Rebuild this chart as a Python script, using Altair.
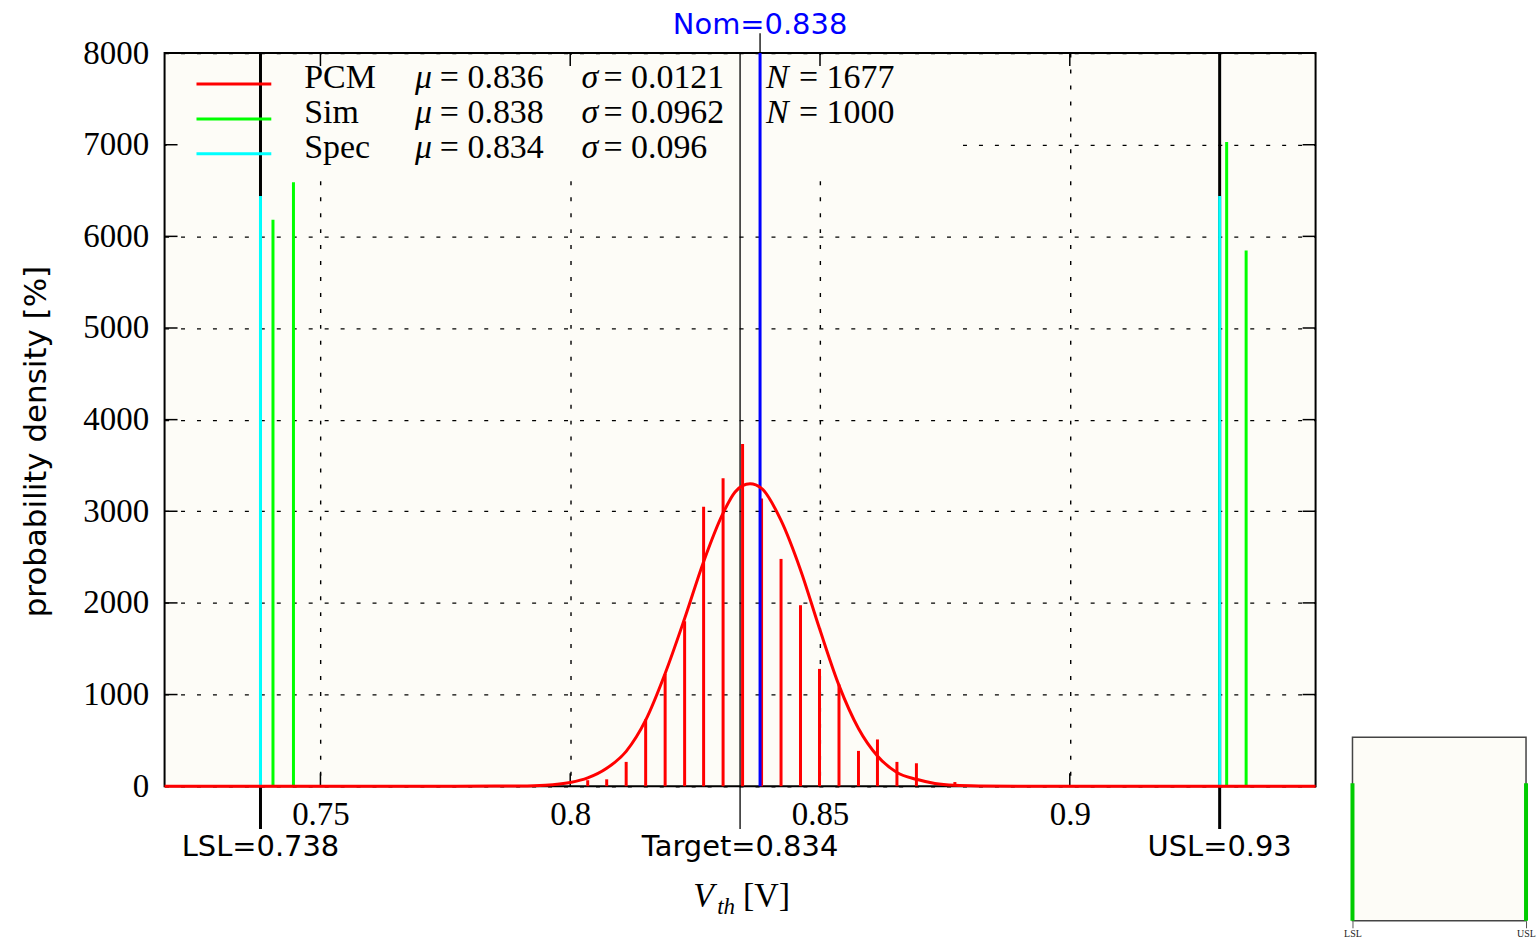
import altair as alt
import pandas as pd

# ---------------- data ----------------
LSL = 0.738
USL = 0.93
TARGET = 0.834
NOMINAL = 0.838

pcm_bin_centers = [0.8035, 0.8073, 0.8112, 0.8151, 0.8190, 0.8229, 0.8267, 0.8306, 0.8345, 0.8383,
                   0.8422, 0.8461, 0.8499, 0.8538, 0.8577, 0.8615, 0.8654, 0.8693, 0.8770]
pcm_density = [65, 75, 265, 730, 1225, 1800, 3050, 3360, 3735, 3140,
               2480, 1975, 1280, 1110, 385, 510, 265, 250, 45]

sim_bin_centers = [0.7405, 0.7446, 0.9314, 0.9353]
sim_density = [6180, 6590, 7030, 5845]

spec_positions = [0.738, 0.93]
spec_density = [6440, 6440]

fit_x = [0.7188, 0.770, 0.785, 0.790, 0.795, 0.800, 0.8035, 0.8073, 0.8112, 0.8151, 0.8190,
         0.8229, 0.8267, 0.8306, 0.8330, 0.8345, 0.8360, 0.8383, 0.8422, 0.8461, 0.8499,
         0.8538, 0.8577, 0.8615, 0.8654, 0.8693, 0.8730, 0.8770, 0.8820, 0.8900, 0.9492]
fit_density = [0, 0, 1, 2, 10, 40, 90, 195, 380, 720, 1230,
               1830, 2450, 2980, 3210, 3280, 3300, 3250, 2900, 2360, 1720,
               1100, 630, 330, 150, 75, 30, 10, 3, 0, 0]

x_tick_values = [0.75, 0.8, 0.85, 0.9]
y_tick_values = [0, 1000, 2000, 3000, 4000, 5000, 6000, 7000, 8000]
X_DOMAIN = [0.7188, 0.9492]
Y_DOMAIN = [0, 8000]

legend_names = ["PCM", "Sim", "Spec"]
legend_mu = ["0.836", "0.838", "0.834"]
legend_sigma = ["0.0121", "0.0962", "0.096"]
legend_n = ["1677", "1000", ""]
legend_colors = ["#ff0000", "#00ff00", "#00ffff"]

limit_positions = [LSL, USL]
limit_labels = ["LSL=0.738", "USL=0.93"]

inset_positions = [LSL, USL]
inset_heights = [0.75, 0.75]

# ---------------- styling ----------------
BG = "#fdfcf7"
SERIF = "Liberation Serif"
SANS = "DejaVu Sans"
W, H = 1154, 735

xscale = alt.Scale(domain=X_DOMAIN, nice=False, zero=False)
yscale = alt.Scale(domain=Y_DOMAIN, nice=False, zero=False)

xaxis = alt.Axis(values=x_tick_values, format="~g", title=None, grid=True, gridColor="black",
                 gridDash=[4, 12], gridWidth=1.4, gridOpacity=1, ticks=False, tickSize=0,
                 domain=False, labelFont=SERIF, labelFontSize=33, labelColor="black",
                 labelPadding=12, labelFlush=False)
yaxis = alt.Axis(values=y_tick_values, format="d", title="probability density [%]",
                 titleFont=SANS, titleFontSize=31, titleFontWeight="normal", titleColor="black",
                 titleAngle=270, titleX=-128, titleY=389, titleAlign="center",
                 titleBaseline="middle", grid=True, gridColor="black", gridDash=[4, 12],
                 gridWidth=1.4, gridOpacity=1, ticks=False, tickSize=0, domain=False,
                 labelFont=SERIF, labelFontSize=33, labelColor="black", labelPadding=16,
                 labelFlush=False)


def X(field):
    return alt.X(field, type="quantitative", scale=xscale, axis=xaxis)


def Y(field):
    return alt.Y(field, type="quantitative", scale=yscale, axis=yaxis)


one = pd.DataFrame({"i": [0]})
pcm_df = pd.DataFrame({"x": pcm_bin_centers, "d": pcm_density})
sim_df = pd.DataFrame({"x": sim_bin_centers, "d": sim_density})
spec_df = pd.DataFrame({"x": spec_positions, "d": spec_density})
fit_df = pd.DataFrame({"x": fit_x, "d": fit_density})
xt_df = pd.DataFrame({"v": x_tick_values})
yt_df = pd.DataFrame({"v": y_tick_values})
lim_df = pd.DataFrame({"x": limit_positions, "label": limit_labels})
target_df = pd.DataFrame({"x": [TARGET], "label": ["Target=0.834"]})
nom_df = pd.DataFrame({"x": [NOMINAL], "label": ["Nom=0.838"], "top": [Y_DOMAIN[1]], "bot": [0]})

layers = []

# legend background (hides grid behind the legend)
layers.append(alt.Chart(one).mark_rect(fill=BG).encode(
    x=alt.value(2), x2=alt.value(792), y=alt.value(2), y2=alt.value(123)))

# inward ticks on all four sides
layers.append(alt.Chart(xt_df).mark_rule(color="black", strokeWidth=1.5).encode(
    x=X("v"), y=alt.value(H), y2=alt.value(H - 13)))
layers.append(alt.Chart(xt_df).mark_rule(color="black", strokeWidth=1.5).encode(
    x=X("v"), y=alt.value(0), y2=alt.value(13)))
layers.append(alt.Chart(yt_df).mark_rule(color="black", strokeWidth=1.5).encode(
    y=Y("v"), x=alt.value(0), x2=alt.value(13)))
layers.append(alt.Chart(yt_df).mark_rule(color="black", strokeWidth=1.5).encode(
    y=Y("v"), x=alt.value(W), x2=alt.value(W - 13)))

# PCM histogram
layers.append(alt.Chart(pcm_df).mark_rule(color="#ff0000", strokeWidth=3).encode(
    x=X("x"), y=Y("d"), y2=alt.datum(0)))

# spec limit lines (black, thick)
layers.append(alt.Chart(lim_df).mark_rule(color="black", strokeWidth=3).encode(
    x=X("x"), y=alt.value(0), y2=alt.value(H + 43)))
# Spec (cyan) and Sim (green)
layers.append(alt.Chart(spec_df).mark_rule(color="#00ffff", strokeWidth=3).encode(
    x=X("x"), y=Y("d"), y2=alt.datum(0)))
layers.append(alt.Chart(sim_df).mark_rule(color="#00ff00", strokeWidth=3).encode(
    x=X("x"), y=Y("d"), y2=alt.datum(0)))

# target line
layers.append(alt.Chart(target_df).mark_rule(color="black", strokeWidth=1.3).encode(
    x=X("x"), y=alt.value(0), y2=alt.value(H + 43)))
# nominal line
layers.append(alt.Chart(nom_df).mark_rule(color="#0000ff", strokeWidth=3).encode(
    x=X("x"), y=Y("top"), y2=alt.datum(0)))
layers.append(alt.Chart(nom_df).mark_rule(color="black", strokeWidth=1.3).encode(
    x=X("x"), y=alt.value(-20), y2=alt.value(0)))

# fitted density curve
layers.append(alt.Chart(fit_df).mark_line(color="#ff0000", strokeWidth=3,
                                          interpolate="monotone").encode(x=X("x"), y=Y("d")))

# legend
row_y = [31, 66, 101]
for i, name in enumerate(legend_names):
    ly = row_y[i]
    layers.append(alt.Chart(one).mark_rule(color=legend_colors[i], strokeWidth=3).encode(
        x=alt.value(32), x2=alt.value(107), y=alt.value(ly)))
    pieces = [(140, name, "normal"),
              (251, "\u03bc", "italic"), (276, "= " + legend_mu[i], "normal"),
              (418, "\u03c3", "italic"), (440, "= " + legend_sigma[i], "normal")]
    if legend_n[i]:
        pieces += [(603, "N", "italic"), (636, "= " + legend_n[i], "normal")]
    for px, txt, style in pieces:
        layers.append(alt.Chart(one).mark_text(
            font=SERIF, fontSize=34, fontStyle=style, align="left", baseline="alphabetic",
            color="black").encode(x=alt.value(px), y=alt.value(ly + 4), text=alt.value(txt)))

# annotations below the axis
layers.append(alt.Chart(lim_df).mark_text(font=SANS, fontSize=29, color="black",
                                          baseline="middle", align="center").encode(
    x=X("x"), y=alt.value(796), text="label:N"))
layers.append(alt.Chart(target_df).mark_text(font=SANS, fontSize=29, color="black",
                                             baseline="middle", align="center").encode(
    x=X("x"), y=alt.value(796), text="label:N"))
layers.append(alt.Chart(nom_df).mark_text(font=SANS, fontSize=29, color="#0000ff",
                                          baseline="middle", align="center").encode(
    x=X("x"), y=alt.value(-28), text="label:N"))

# x-axis title: V_th [V]
layers.append(alt.Chart(one).mark_text(font=SERIF, fontSize=34, fontStyle="italic",
                                       align="left", baseline="alphabetic", color="black").encode(
    x=alt.value(530), y=alt.value(855), text=alt.value("V")))
layers.append(alt.Chart(one).mark_text(font=SERIF, fontSize=23, fontStyle="italic",
                                       align="left", baseline="alphabetic", color="black").encode(
    x=alt.value(554), y=alt.value(863), text=alt.value("th")))
layers.append(alt.Chart(one).mark_text(font=SERIF, fontSize=34, align="left",
                                       baseline="alphabetic", color="black").encode(
    x=alt.value(580), y=alt.value(855), text=alt.value("[V]")))

main = alt.layer(*layers).properties(
    width=W, height=H,
    view=alt.ViewBackground(fill=BG, stroke="black", strokeWidth=2))

# ---------------- inset ----------------
inset_df = pd.DataFrame({"x": inset_positions, "h": inset_heights})
inset = alt.Chart(inset_df).mark_rule(color="#00cc00", strokeWidth=4).encode(
    x=alt.X("x:Q", scale=alt.Scale(domain=[LSL, USL], nice=False, zero=False),
            axis=alt.Axis(values=inset_positions,
                          labelExpr="datum.value < 0.8 ? 'LSL' : 'USL'",
                          title=None, grid=False, domain=False, ticks=True, tickSize=7,
                          tickColor="#555555", labelFont=SERIF, labelFontSize=10,
                          labelColor="#222222", labelPadding=1, labelFlush=False)),
    y=alt.Y("h:Q", scale=alt.Scale(domain=[0, 1], nice=False, zero=False), axis=None),
    y2=alt.datum(0),
).properties(width=174, height=184,
             view=alt.ViewBackground(fill=BG, stroke="#444444", strokeWidth=1.5))

spacer = alt.Chart(one).mark_point(opacity=0).encode(
    x=alt.value(0), y=alt.value(0)).properties(width=174, height=686)

right = alt.vconcat(spacer, inset, spacing=0, bounds="flush")

chart = alt.hconcat(main, right, spacing=37, bounds="flush").properties(
    padding={"left": 20, "top": 9, "right": 0, "bottom": 0}
).configure_view(stroke="transparent")

chart.save("out.html", embed_options={"renderer": "svg", "actions": False})
